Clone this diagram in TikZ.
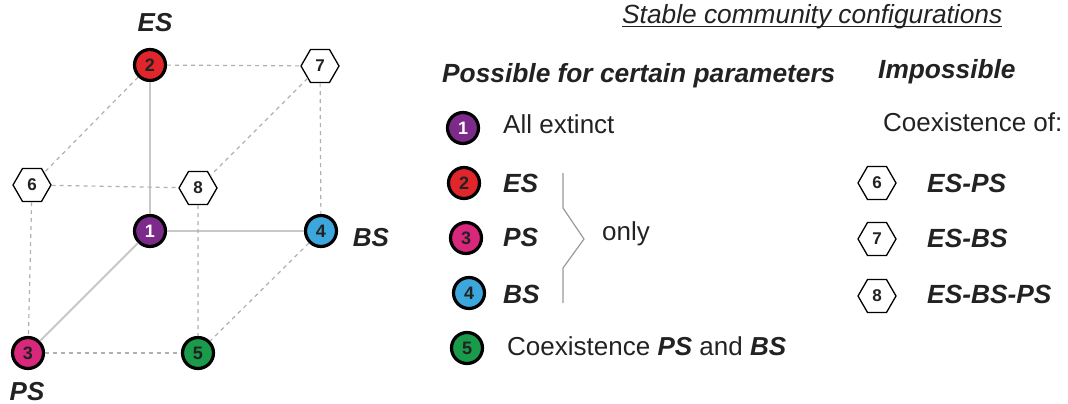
\documentclass[tikz,border=0pt]{standalone}
\usepackage{fontspec}
\setmainfont{Liberation Sans}
\usetikzlibrary{shapes.geometric}
\definecolor{cpurple}{HTML}{7D2B8B}
\definecolor{cred}{HTML}{E1262B}
\definecolor{cpink}{HTML}{D8287B}
\definecolor{cblue}{HTML}{3BA7DC}
\definecolor{cgreen}{HTML}{1A9A4B}
\definecolor{edgesolid}{HTML}{C8C8C8}
\definecolor{edgedash}{HTML}{B0B0B0}
\definecolor{txt}{HTML}{222222}
\tikzset{
  state/.style={circle, draw=black, line width=3.2pt, minimum size=31pt, inner sep=0pt,
    font=\fontsize{18}{18}\selectfont\bfseries, text=txt},
  hexa/.style={regular polygon, regular polygon sides=6, draw=black, line width=1.3pt,
    fill=white, minimum size=38pt, inner sep=0pt, font=\fontsize{17}{17}\selectfont\bfseries, text=txt},
  solidedge/.style={draw=edgesolid, line width=2pt},
  dashedge/.style={draw=edgedash, line width=1.2pt, dash pattern=on 4pt off 4pt},
  lbl/.style={anchor=base west, inner sep=0pt, text=txt, font=\fontsize{26}{30}\selectfont},
  blbl/.style={lbl, font=\fontsize{26.3}{30}\selectfont\bfseries\itshape},
  clbl/.style={anchor=base, inner sep=0pt, text=txt, font=\fontsize{26}{30}\selectfont\bfseries\itshape},
}
\begin{document}
\begin{tikzpicture}[x=1pt,y=-1pt]
\useasboundingbox (0,0) rectangle (1068,404);
% cube nodes
\node[state, fill=cpurple, text=white] (n1) at (150,231) {1};
\node[state, fill=cred] (n2) at (150,65) {2};
\node[state, fill=cpink] (n3) at (28,353) {3};
\node[state, fill=cblue] (n4) at (321,231) {4};
\node[state, fill=cgreen] (n5) at (198,353) {5};
\node[hexa] (n6) at (32,185) {6};
\node[hexa] (n7) at (320,66) {7};
\node[hexa] (n8) at (198,188) {8};
% edges
\draw[solidedge] (n2) -- (n1);
\draw[solidedge] (n1) -- (n4);
\draw[solidedge] (n1) -- (n3);
\draw[dashedge] (n2) -- (n7);
\draw[dashedge] (n2) -- (n6);
\draw[dashedge] (n7) -- (n8);
\draw[dashedge] (n7) -- (n4);
\draw[dashedge] (n6) -- (n8);
\draw[dashedge] (n6) -- (n3);
\draw[dashedge] (n8) -- (n5);
\draw[dashedge] (n4) -- (n5);
\draw[dashedge] (n3) -- (n5);
% cube labels
\node[clbl] (les) at (155,32) {ES};
\node[clbl] (lbs) at (371,246) {BS};
\node[clbl] (lps) at (27,400) {PS};
% title
\node[lbl, font=\fontsize{26.3}{30}\selectfont\itshape] (title) at (622,24) {Stable community configurations};
\draw[txt, line width=1pt] ([yshift=-3pt]title.base west) -- ([yshift=-3pt]title.base east);
\node[blbl] (hpos) at (442,82) {Possible for certain parameters};
\node[blbl] (himp) at (878,78) {Impossible};
% legend possible
\node[state, fill=cpurple, text=white] (l1) at (463,128) {1};
\node[state, fill=cred] (l2) at (464,183) {2};
\node[state, fill=cpink] (l3) at (466,238) {3};
\node[state, fill=cblue] (l4) at (469,293) {4};
\node[state, fill=cgreen] (l5) at (467,348) {5};
\node[lbl] (t1) at (503,133) {All extinct};
\node[blbl] (t2) at (503,192) {ES};
\node[blbl] (t3) at (503,246) {PS};
\node[blbl] (t4) at (503,303) {BS};
\node[lbl] (t5) at (507,355) {Coexistence \textbf{\itshape PS} and \textbf{\itshape BS}};
% brace
\coordinate (b1) at (563,173);
\coordinate (b2) at (563,208);
\coordinate (b3) at (584,239);
\coordinate (b4) at (563,268);
\coordinate (b5) at (563,303);
\draw[draw=gray!80, line width=1.2pt] (b1) -- (b2) -- (b3) -- (b4) -- (b5);
\node[lbl] (only) at (602,240) {only};
% legend impossible
\node[lbl] (coex) at (883,131) {Coexistence of:};
\node[hexa] (r6) at (877,183) {6};
\node[hexa] (r7) at (877,239) {7};
\node[hexa] (r8) at (877,296) {8};
\node[blbl] (s6) at (927,192) {ES-PS};
\node[blbl] (s7) at (927,247) {ES-BS};
\node[blbl] (s8) at (927,303) {ES-BS-PS};
\end{tikzpicture}
\end{document}
